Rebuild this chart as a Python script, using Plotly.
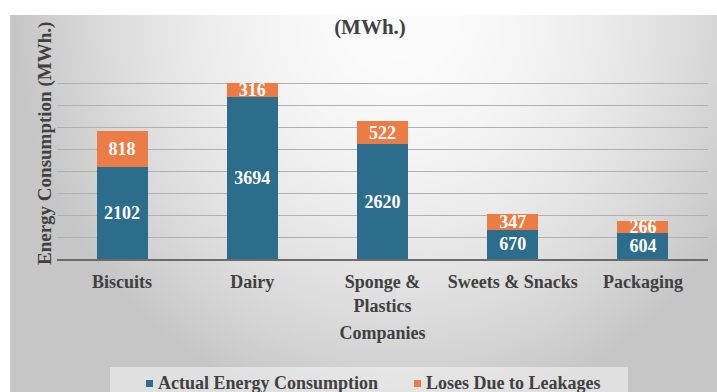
import base64
import struct
import zlib

import numpy as np
import plotly.graph_objects as go

# ---- data -------------------------------------------------------------
companies = ["Biscuits", "Dairy", "Sponge &<br>Plastics", "Sweets & Snacks", "Packaging"]
actual_consumption = [2102, 3694, 2620, 670, 604]
leakage_losses = [818, 316, 522, 347, 266]

series_names = ["Actual Energy Consumption", "Loses Due to Leakages"]
series_colors = ["#2D6D8C", "#EC7C45"]

# ---- canvas geometry (pixels) -----------------------------------------
W, H = 717, 392
M_L, M_R, M_T, M_B = 57, 9, 62, 133
PLOT_W = W - M_L - M_R
PLOT_H = H - M_T - M_B

FONT = "Liberation Serif, Times New Roman, serif"
TEXT = "#404040"


def px_x(x):
    """Pixel x -> plot-area paper fraction."""
    return (x - M_L) / PLOT_W


def px_y(y):
    """Pixel y (from top) -> plot-area paper fraction."""
    return (H - M_B - y) / PLOT_H


def gray_png_uri(arr):
    """Encode a 2-D uint8 array as a grayscale PNG data URI."""
    h, w = arr.shape
    raw = b"".join(b"\x00" + arr[r].tobytes() for r in range(h))

    def chunk(tag, data):
        return (struct.pack(">I", len(data)) + tag + data
                + struct.pack(">I", zlib.crc32(tag + data) & 0xFFFFFFFF))

    png = (b"\x89PNG\r\n\x1a\n"
           + chunk(b"IHDR", struct.pack(">IIBBBBB", w, h, 8, 0, 0, 0, 0))
           + chunk(b"IDAT", zlib.compress(raw, 9))
           + chunk(b"IEND", b""))
    return "data:image/png;base64," + base64.b64encode(png).decode()


# soft radial backdrop: light near the top centre, greyer toward the edges
BG_X0, BG_Y0 = 10, 15
bw, bh = (W - BG_X0) // 2, (H - BG_Y0) // 2
gx, gy = np.meshgrid(np.linspace(BG_X0, W, bw), np.linspace(BG_Y0, H, bh))
r = np.sqrt(((gx - 400) / 380) ** 2 + ((gy - 15) / 400) ** 2)
shade = np.clip(252 - 52 * r ** 1.8, 198, 255).astype(np.uint8)
backdrop = gray_png_uri(shade)

fig = go.Figure()

for name, values, color in zip(series_names, [actual_consumption, leakage_losses], series_colors):
    fig.add_trace(go.Bar(
        x=companies, y=values, name=name,
        marker=dict(color=color, line=dict(width=0)),
        text=values, textposition="inside", insidetextanchor="middle",
        textangle=0,
        textfont=dict(family=FONT, size=18, color="white", weight="bold"),
        showlegend=False,
    ))

# ---- legend strip: translucent box, square keys and labels ------------
LEG_BOX = (110, 628, 367, 395)
LEG_Y = 383
LEG_KEYS = [146, 414]
legend_shapes = [dict(
    type="rect", xref="paper", yref="paper",
    x0=px_x(LEG_BOX[0]), x1=px_x(LEG_BOX[1]),
    y0=px_y(LEG_BOX[3]), y1=px_y(LEG_BOX[2]),
    fillcolor="rgba(255,255,255,0.45)", line=dict(width=0), layer="below",
)]
legend_notes = []
for key_x, name, color in zip(LEG_KEYS, series_names, series_colors):
    legend_shapes.append(dict(
        type="rect", xref="paper", yref="paper",
        x0=px_x(key_x), x1=px_x(key_x + 7),
        y0=px_y(LEG_Y + 4), y1=px_y(LEG_Y - 3),
        fillcolor=color, line=dict(width=0),
    ))
    legend_notes.append(dict(
        text=name, xref="paper", yref="paper",
        x=px_x(key_x + 10), y=px_y(LEG_Y),
        xanchor="left", yanchor="middle", showarrow=False,
        font=dict(family=FONT, size=18, color=TEXT, weight="bold"),
    ))

fig.update_layout(
    width=W, height=H,
    margin=dict(l=M_L, r=M_R, t=M_T, b=M_B, autoexpand=False),
    paper_bgcolor="white", plot_bgcolor="rgba(0,0,0,0)",
    barmode="stack", bargap=0.608,
    uniformtext=dict(minsize=18, mode="show"),
    font=dict(family=FONT, color=TEXT, size=18),
    title=dict(
        text="(MWh.)", x=370 / W, xanchor="center",
        y=1 - 27 / H, yanchor="middle",
        font=dict(family=FONT, size=21, color=TEXT, weight="bold"),
    ),
    showlegend=False,
    images=[dict(
        source=backdrop, xref="paper", yref="paper",
        x=px_x(BG_X0), y=px_y(BG_Y0),
        sizex=px_x(W) - px_x(BG_X0), sizey=px_y(BG_Y0) - px_y(H),
        xanchor="left", yanchor="top", sizing="stretch", layer="below",
    )],
    shapes=legend_shapes,
    annotations=[dict(
        text="Energy Consumption (MWh.)", textangle=-90,
        xref="paper", yref="paper", x=px_x(45), y=px_y(144),
        xanchor="center", yanchor="middle", showarrow=False,
        font=dict(family=FONT, size=19, color=TEXT, weight="bold"),
    )] + legend_notes,
)

fig.update_xaxes(
    showline=True, linecolor="#6B6B6B", linewidth=1.5,
    ticks="", ticklabelstandoff=6,
    tickfont=dict(family=FONT, size=18, color=TEXT, weight="bold"),
    title=dict(text="Companies", standoff=12,
               font=dict(family=FONT, size=18, color=TEXT, weight="bold")),
    automargin=False,
)
fig.update_yaxes(
    range=[0, 4500], dtick=500, showticklabels=False, ticks="",
    showgrid=True, gridcolor="#B0B0B0", gridwidth=1.3,
    zeroline=False, automargin=False,
)

fig.write_html("out.html")
